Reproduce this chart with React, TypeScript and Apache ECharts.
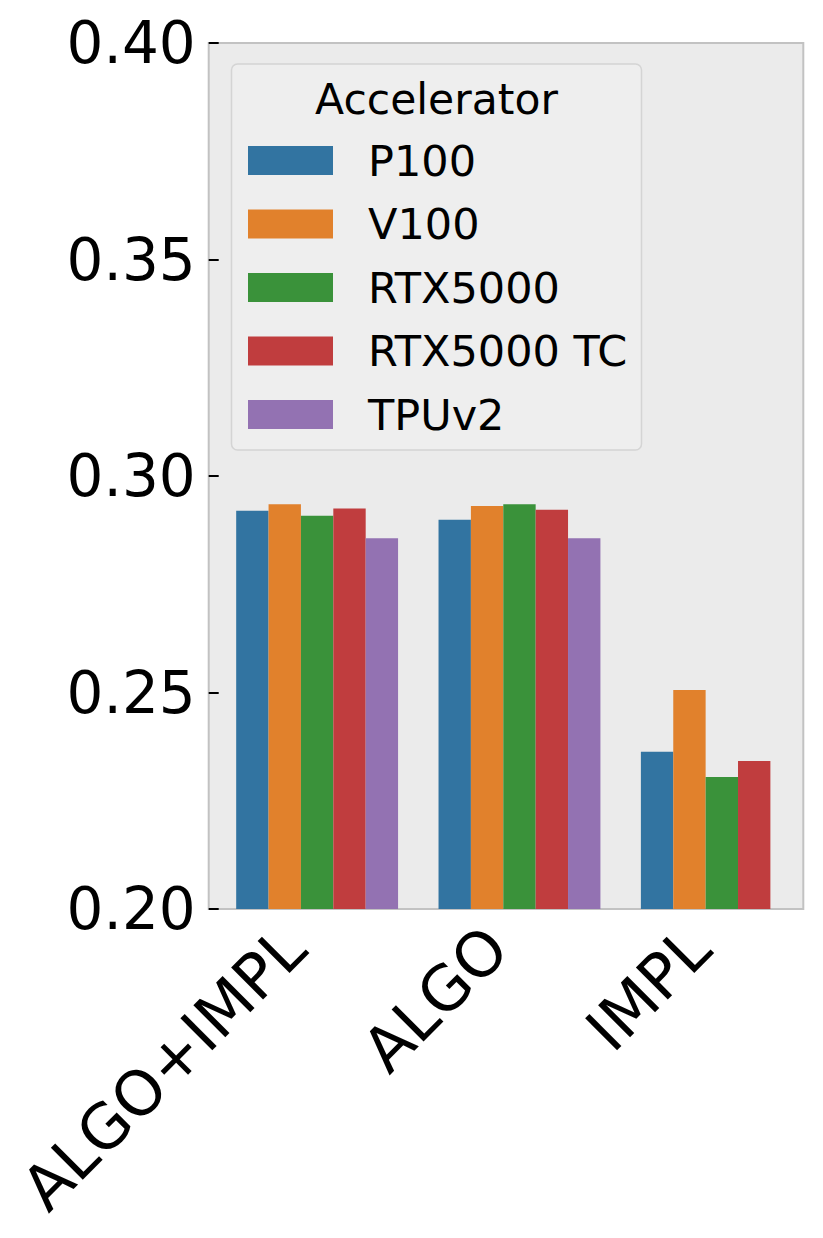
import React, { useEffect, useRef } from "react";
import * as echarts from "echarts";

const categories = ["ALGO+IMPL", "ALGO", "IMPL"];
const seriesNames = ["P100", "V100", "RTX5000", "RTX5000 TC", "TPUv2"];
const colors = ["#3274a1", "#e1812c", "#3a923a", "#c03d3e", "#9372b2"];
const p100 = [0.292, 0.2899, 0.2363];
const v100 = [0.2935, 0.2931, 0.2506];
const rtx5000 = [0.2908, 0.2935, 0.2305];
const rtx5000tc = [0.2925, 0.2922, 0.2342];
const tpuv2 = [0.2856, 0.2856, null];
const yTicks = [0.2, 0.25, 0.3, 0.35, 0.4];

const FONT = "DejaVu Sans";

export default function App() {
  const ref = useRef<HTMLDivElement>(null);
  useEffect(() => {
    if (!ref.current) return;
    const chart = echarts.init(ref.current, undefined, { renderer: "svg" });
    const values = [p100, v100, rtx5000, rtx5000tc, tpuv2];
    chart.setOption({
      animation: false,
      backgroundColor: "#ffffff",
      grid: {
        left: 215.95,
        width: 614.1,
        top: 43,
        bottom: 329,
        show: false,
      },
      graphic: [
        {
          type: "rect",
          z: 0,
          silent: true,
          shape: { x: 208.7, y: 43, width: 594.6, height: 866 },
          style: { fill: "#ebebeb", stroke: "#c2c2c2", lineWidth: 2 },
        },
        {
          type: "rect",
          z: 1,
          shape: { x: 231.5, y: 64, width: 410, height: 386, r: 6 },
          style: { fill: "#eeeeee", stroke: "#d4d4d4", lineWidth: 1.5 },
        },
        {
          type: "text",
          z: 2,
          x: 436.5,
          y: 99,
          style: {
            text: "Accelerator",
            font: `42.5px '${FONT}'`,
            fill: "#000",
            textAlign: "center",
            textVerticalAlign: "middle",
          },
        },
      ],
      legend: {
        left: 248,
        top: 139,
        orient: "vertical",
        padding: 0,
        itemWidth: 85,
        itemHeight: 29,
        itemGap: 20.5,
        icon: "rect",
        z: 3,
        textStyle: {
          fontFamily: FONT,
          fontSize: 43,
          lineHeight: 42,
          color: "#000",
          padding: [0, 0, 0, 30],
        },
        data: seriesNames,
      },
      xAxis: {
        type: "category",
        data: categories,
        axisLine: { show: false },
        axisTick: {
          show: true,
          inside: true,
          alignWithLabel: true,
          length: 8,
          lineStyle: { color: "#000", width: 2 },
        },
        axisLabel: {
          rotate: 45,
          fontFamily: FONT,
          fontSize: 62,
          color: "#000",
          margin: 6,
          padding: [0, 32, 0, 0],
        },
      },
      yAxis: {
        type: "value",
        min: 0.2,
        max: 0.4,
        interval: 0.05,
        offset: 7.25,
        splitLine: { show: false },
        axisLine: { show: false },
        axisTick: {
          show: true,
          inside: true,
          length: 10,
          lineStyle: { color: "#000", width: 2 },
        },
        axisLabel: {
          fontFamily: FONT,
          fontSize: 58,
          color: "#000",
          margin: 13,
          formatter: (v: number) => {
            const t = yTicks.find((x) => Math.abs(x - v) < 1e-9);
            return (t !== undefined ? t : v).toFixed(2);
          },
        },
      },
      series: seriesNames.map((name, i) => ({
        name,
        type: "bar",
        data: values[i],
        barGap: "0%",
        barCategoryGap: "20%",
        itemStyle: { color: colors[i] },
      })),
    });
    return () => chart.dispose();
  }, []);
  return (
    <div
      ref={ref}
      style={{ position: "fixed", left: 0, top: 0, width: 823, height: 1238 }}
    />
  );
}
